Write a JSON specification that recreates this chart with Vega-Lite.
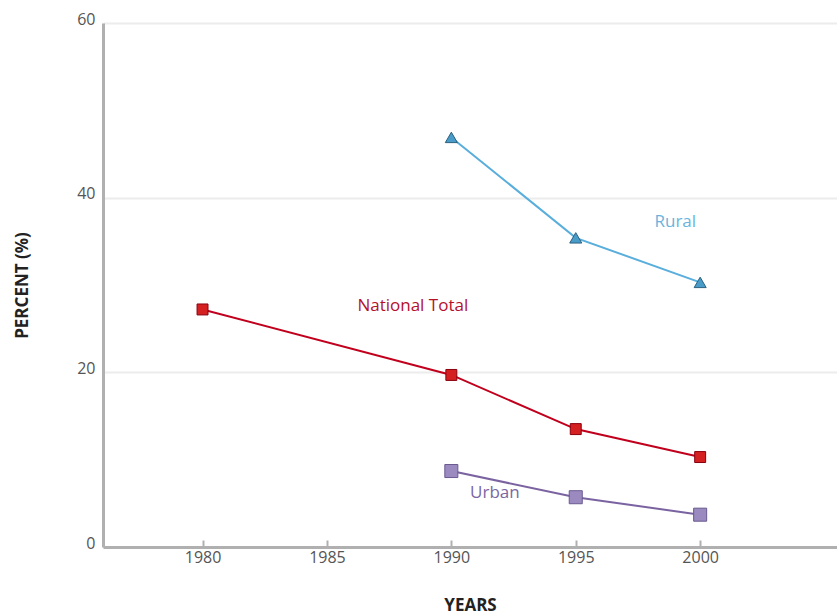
{
  "$schema": "https://vega.github.io/schema/vega-lite/v6.json",
  "width": 734,
  "height": 524,
  "autosize": {"type": "none"},
  "padding": {"left": 103, "top": 23, "right": 0, "bottom": 69},
  "background": "white",
  "config": {
    "view": {"stroke": null},
    "font": "Open Sans"
  },
  "datasets": {
    "series": [
      {"year": 1980, "percent": 27.2, "series": "National Total"},
      {"year": 1990, "percent": 19.7, "series": "National Total"},
      {"year": 1995, "percent": 13.5, "series": "National Total"},
      {"year": 2000, "percent": 10.3, "series": "National Total"},
      {"year": 1990, "percent": 46.9, "series": "Rural"},
      {"year": 1995, "percent": 35.4, "series": "Rural"},
      {"year": 2000, "percent": 30.3, "series": "Rural"},
      {"year": 1990, "percent": 8.7, "series": "Urban"},
      {"year": 1995, "percent": 5.7, "series": "Urban"},
      {"year": 2000, "percent": 3.7, "series": "Urban"}
    ],
    "labels": [
      {"year": 1999, "percent": 37.2, "series": "Rural"},
      {"year": 1988.45, "percent": 27.6, "series": "National Total"},
      {"year": 1991.75, "percent": 6.2, "series": "Urban"}
    ]
  },
  "layer": [
    {
      "data": {"name": "series"},
      "mark": {"type": "line", "strokeWidth": 2},
      "encoding": {
        "x": {
          "field": "year", "type": "quantitative",
          "scale": {"domain": [1976, 2005.5], "nice": false, "zero": false},
          "axis": {
            "values": [1980, 1985, 1990, 1995, 2000],
            "format": "d",
            "title": "YEARS",
            "titleFont": "Open Sans",
            "titleFontSize": 17,
            "titleFontWeight": "bold",
            "titleColor": "#222",
            "titlePadding": 32,
            "labelFont": "Open Sans",
            "labelFontSize": 16,
            "labelColor": "#555",
            "labelPadding": 9,
            "domainColor": "#b0b0b0",
            "domainWidth": 3,
            "tickColor": "#b0b0b0",
            "tickWidth": 2,
            "tickSize": -7,
            "grid": false
          }
        },
        "y": {
          "field": "percent", "type": "quantitative",
          "scale": {"domain": [0, 60], "nice": false},
          "axis": {
            "values": [0, 20, 40, 60],
            "title": "PERCENT (%)",
            "titleFont": "Open Sans",
            "titleFontSize": 17,
            "titleFontWeight": "bold",
            "titleColor": "#222",
            "titlePadding": 45,
            "labelFont": "Open Sans",
            "labelFontSize": 16,
            "labelColor": "#555",
            "labelPadding": 8,
            "labelOffset": -4,
            "ticks": false,
            "domainColor": "#b0b0b0",
            "domainWidth": 3,
            "grid": true,
            "gridColor": "#ececec",
            "gridWidth": 2
          }
        },
        "color": {
          "field": "series", "type": "nominal",
          "scale": {"domain": ["National Total", "Rural", "Urban"], "range": ["#c0001c", "#5aaedc", "#7a63a0"]},
          "legend": null
        },
        "detail": {"field": "series"}
      }
    },
    {
      "data": {"name": "series"},
      "mark": {"type": "point", "filled": true, "opacity": 1, "strokeWidth": 1},
      "encoding": {
        "x": {"field": "year", "type": "quantitative"},
        "y": {"field": "percent", "type": "quantitative"},
        "shape": {
          "field": "series", "type": "nominal",
          "scale": {"domain": ["National Total", "Rural", "Urban"], "range": ["square", "triangle-up", "square"]},
          "legend": null
        },
        "size": {
          "field": "series", "type": "nominal",
          "scale": {"domain": ["National Total", "Rural", "Urban"], "range": [120, 170, 115]},
          "legend": null
        },
        "fill": {
          "field": "series", "type": "nominal",
          "scale": {"domain": ["National Total", "Rural", "Urban"], "range": ["#d42020", "#4a9cc8", "#9a8abf"]},
          "legend": null
        },
        "stroke": {
          "field": "series", "type": "nominal",
          "scale": {"domain": ["National Total", "Rural", "Urban"], "range": ["#8a0010", "#2a5f80", "#6a5a90"]},
          "legend": null
        }
      }
    },
    {
      "data": {"name": "labels"},
      "mark": {"type": "text", "font": "Open Sans", "fontSize": 17, "align": "center", "baseline": "middle"},
      "encoding": {
        "x": {"field": "year", "type": "quantitative"},
        "y": {"field": "percent", "type": "quantitative"},
        "text": {"field": "series"},
        "color": {
          "field": "series", "type": "nominal",
          "scale": {"domain": ["National Total", "Rural", "Urban"], "range": ["#b5102a", "#6ab4dc", "#7a66a3"]},
          "legend": null
        }
      }
    }
  ],
  "resolve": {"scale": {"color": "independent"}}
}
